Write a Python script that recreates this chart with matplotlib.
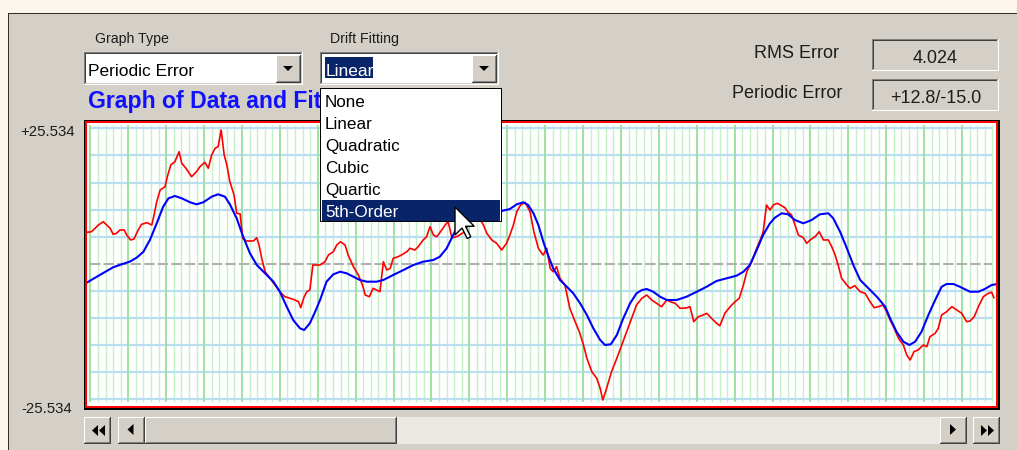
import matplotlib
matplotlib.use('Agg')
import numpy as np
import matplotlib.pyplot as plt
from matplotlib.patches import Rectangle, Polygon

W, H = 1017, 450

# measured periodic error (x = sample index, y = error)
data_x = [-0.8, 0.3, 1.2, 2.1, 3.4, 4.3, 5.2, 6.0, 6.9, 7.8, 8.9, 9.6, 10.6, 11.5, 12.6, 13.5, 14.9, 16.2, 16.8, 17.5,
          18.4, 19.7, 20.3, 21.2, 22.3, 23.4, 24.1, 25.2, 26.7, 28.0, 28.9, 30.2, 31.1, 32.0, 32.9, 33.7, 34.5, 35.3, 36.0, 36.8,
          37.9, 38.6, 39.5, 40.2, 41.2, 43.0, 43.9, 44.5, 45.2, 46.1, 47.4, 48.7, 50.0, 51.3, 52.7, 54.0, 54.9, 55.5, 56.4, 57.1,
          57.9, 58.7, 60.6, 61.9, 62.8, 64.1, 65.0, 66.0, 67.2, 68.0, 69.4, 70.7, 71.8, 72.5, 73.6, 74.6, 75.5, 76.4, 77.3, 78.2,
          79.1, 79.9, 81.2, 82.1, 83.5, 84.3, 85.6, 86.5, 87.8, 88.7, 89.6, 90.5, 91.4, 92.7, 93.6, 94.4, 95.4, 97.0, 98.6, 100.2,
          101.7, 103.7, 104.6, 105.9, 107.2, 108.5, 109.8, 110.7, 111.6, 112.5, 113.5, 114.7, 116.0, 117.0, 118.2, 119.1, 119.5, 120.4, 121.3, 122.1,
          123.0, 123.9, 125.2, 126.5, 127.9, 129.0, 130.1, 131.0, 132.3, 133.6, 134.5, 135.2, 136.2, 137.5, 138.9, 140.2, 141.5, 142.8, 144.1, 145.5,
          146.8, 148.1, 149.4, 150.7, 152.1, 153.2, 154.3, 155.6, 157.2, 158.2, 159.2, 160.4, 161.7, 162.6, 163.9, 165.2, 166.1, 167.4, 168.8, 170.1,
          171.2, 172.3, 173.2, 174.5, 175.8, 176.9, 177.5, 178.4, 179.3, 180.2, 181.2, 182.4, 183.3, 184.1, 185.0, 185.9, 186.8, 188.1, 189.0, 189.9,
          191.2, 192.3, 193.4, 194.7, 195.6, 196.5, 197.3, 198.2, 199.6, 200.4, 201.7, 203.1, 204.4, 205.7, 206.8, 207.9, 209.1, 210.1, 211.0, 212.1,
          213.2, 214.5, 215.4, 216.3, 217.3, 218.4, 219.8, 220.7, 221.5, 222.9, 223.7, 224.6, 225.9, 227.3, 228.6, 229.9, 231.2, 232.1, 233.2, 234.3,
          235.6, 236.9, 237.8, 238.4]
data_y = [5.94, 6.05, 6.69, 7.31, 7.93, 7.31, 6.69, 5.56, 5.75, 6.37, 6.37, 5.43, 4.49, 4.67, 6.37, 7.44, 7.75, 7.31, 9.20, 11.70,
          13.91, 14.53, 16.41, 18.62, 19.24, 21.13, 18.94, 18.00, 16.41, 17.36, 18.30, 19.13, 18.00, 20.50, 21.77, 22.07, 25.21, 20.50, 18.62, 15.47,
          12.97, 9.52, 9.38, 4.81, 4.30, 4.30, 4.92, 3.54, 1.04, -1.49, -2.73, -4.00, -5.26, -6.20, -6.50, -6.82, -7.14, -8.27, -6.20, -5.26,
          -4.94, -0.23, -0.23, 0.40, 1.66, 2.28, 3.54, 4.16, 3.54, 1.66, -0.55, -2.11, -4.00, -5.88, -6.20, -4.62, -4.94, -5.26, 0.40, -1.17,
          -0.85, 1.04, 1.34, 1.66, 2.28, 2.92, 2.60, 3.22, 4.49, 5.11, 6.99, 5.43, 5.11, 6.37, 7.31, 7.93, 4.86, 5.24, 5.99, 7.88,
          9.76, 7.31, 5.75, 4.49, 3.86, 2.60, 3.86, 5.43, 7.31, 9.82, 11.08, 11.59, 9.82, 6.05, 2.92, 1.98, 1.66, 2.92, -0.85, -1.49,
          -0.55, -2.73, -4.00, -8.39, -10.91, -12.80, -15.30, -17.81, -20.33, -21.58, -23.46, -25.67, -23.46, -20.33, -17.81, -15.30, -12.80, -10.27, -7.76, -6.50,
          -5.88, -6.82, -7.44, -8.08, -6.82, -7.20, -7.44, -8.39, -8.33, -8.08, -10.91, -9.97, -9.65, -9.33, -10.27, -11.21, -11.67, -9.33, -8.08, -7.14,
          -6.50, -4.00, -1.49, 0.40, 2.92, 4.81, 5.99, 11.08, 10.14, 11.08, 11.40, 10.95, 10.52, 9.71, 9.20, 7.31, 5.43, 4.92, 3.86, 4.49,
          5.11, 6.05, 4.49, 4.49, 3.22, 1.66, -0.23, -2.73, -4.00, -4.62, -4.13, -5.26, -5.56, -7.14, -8.27, -8.08, -7.76, -9.03, -10.59, -12.16,
          -14.04, -15.30, -17.19, -18.13, -16.56, -16.24, -15.30, -15.62, -13.74, -13.10, -12.16, -9.65, -9.03, -8.08, -8.71, -9.33, -10.91, -10.78, -9.97, -8.08,
          -6.20, -5.56, -5.37, -6.39]

# fitted curve
fit_x = [-0.8, 1.7, 4.3, 6.0, 8.7, 10.4, 12.2, 14.0, 15.7, 17.5, 19.2, 20.6, 22.3, 24.1, 26.3, 28.0, 29.8, 32.0, 33.7, 35.5,
         36.8, 38.6, 40.3, 42.1, 43.9, 46.1, 48.3, 50.0, 51.8, 53.5, 55.3, 56.4, 57.9, 59.3, 60.6, 62.3, 64.1, 65.9, 67.6, 69.4,
         71.1, 72.9, 75.5, 77.3, 79.9, 82.6, 85.2, 87.8, 90.5, 92.2, 94.0, 95.3, 96.6, 98.4, 101.5, 105.4, 108.5, 110.7, 112.5, 114.2,
         115.5, 116.9, 118.2, 119.5, 120.4, 122.1, 123.9, 125.7, 127.4, 129.2, 131.0, 132.7, 134.5, 135.8, 137.3, 138.9, 140.6, 142.4, 144.1, 145.5,
         146.8, 148.5, 150.3, 152.1, 154.7, 157.3, 160.0, 162.6, 165.2, 167.9, 170.5, 172.3, 174.0, 175.8, 177.5, 179.3, 180.6, 182.4, 184.1, 185.9,
         188.1, 190.3, 192.5, 194.7, 196.0, 197.8, 199.6, 201.3, 203.1, 205.3, 207.5, 209.7, 211.0, 212.7, 214.5, 216.1, 217.6, 219.3, 221.1, 222.9,
         224.6, 225.9, 227.7, 229.4, 232.1, 234.3, 236.0, 237.8, 238.9]
fit_y = [-3.49, -2.43, -1.36, -0.66, 0.02, 0.40, 1.15, 2.28, 4.49, 7.63, 10.76, 12.34, 12.78, 12.34, 11.59, 11.21, 11.59, 12.65, 13.10, 12.65,
         11.21, 8.57, 5.11, 1.98, -0.23, -1.79, -3.37, -5.26, -8.08, -10.59, -12.16, -12.48, -11.21, -9.03, -6.82, -3.37, -1.98, -1.49, -1.79, -2.43,
         -3.05, -3.37, -3.37, -3.05, -2.11, -1.17, -0.23, 0.40, 0.72, 1.34, 2.92, 4.81, 6.69, 7.93, 9.01, 9.57, 9.95, 10.33, 11.21, 11.59,
         11.08, 9.52, 7.31, 4.16, 2.28, -0.85, -3.05, -4.32, -5.56, -7.44, -9.65, -12.16, -14.36, -15.30, -15.17, -13.42, -10.27, -7.44, -5.56, -4.94,
         -4.75, -5.26, -6.20, -6.82, -6.82, -6.20, -5.26, -4.32, -3.24, -2.73, -2.24, -1.49, -0.23, 2.60, 5.43, 7.63, 8.69, 9.52, 9.33, 8.25,
         7.63, 8.25, 9.33, 9.52, 8.57, 6.05, 2.92, -0.23, -3.05, -4.62, -6.20, -8.08, -10.27, -12.80, -14.68, -15.30, -14.68, -12.80, -9.65, -6.82,
         -4.32, -3.81, -3.81, -4.32, -5.26, -5.26, -4.75, -4.00, -3.86]

y_limit = 25.534
y_tick_labels = ['+25.534', '-25.534']
graph_type = 'Periodic Error'
drift_options = ['None', 'Linear', 'Quadratic', 'Cubic', 'Quartic', '5th-Order']
drift_selected = 'Linear'
drift_hover = '5th-Order'
rms_error = '4.024'
periodic_error = '+12.8/-15.0'

FACE = '#d4d0c8'
NAVY = '#0a246a'
TXT = '#1c1c1c'

plt.rcParams['font.family'] = ['Liberation Sans', 'DejaVu Sans']

fig = plt.figure(figsize=(W / 100, H / 100), dpi=100)
fig.patch.set_facecolor('#fdf6ec')


def px_axes(z):
    a = fig.add_axes([0, 0, 1, 1], zorder=z)
    a.set_xlim(0, W)
    a.set_ylim(H, 0)
    a.axis('off')
    return a


def rect(a, x, y, w, h, fc, **kw):
    a.add_patch(Rectangle((x, y), w, h, facecolor=fc, edgecolor='none', lw=0, **kw))


def sunken(a, x0, y0, x1, y1, fill):
    rect(a, x0, y0, x1 - x0, y1 - y0, '#ffffff')
    rect(a, x0, y0, x1 - x0 - 1, y1 - y0 - 1, '#808080')
    rect(a, x0 + 1, y0 + 1, x1 - x0 - 2, y1 - y0 - 2, FACE)
    rect(a, x0 + 1, y0 + 1, x1 - x0 - 3, y1 - y0 - 3, '#404040')
    rect(a, x0 + 2, y0 + 2, x1 - x0 - 4, y1 - y0 - 4, fill)


def raised(a, x0, y0, x1, y1):
    rect(a, x0, y0, x1 - x0, y1 - y0, '#404040')
    rect(a, x0, y0, x1 - x0 - 1, y1 - y0 - 1, '#ffffff')
    rect(a, x0 + 1, y0 + 1, x1 - x0 - 2, y1 - y0 - 2, '#808080')
    rect(a, x0 + 1, y0 + 1, x1 - x0 - 3, y1 - y0 - 3, FACE)


def tri(a, cx, cy, w, h, d):
    if d == 'down':
        pts = [(cx - w / 2, cy - h / 2), (cx + w / 2, cy - h / 2), (cx, cy + h / 2)]
    elif d == 'left':
        pts = [(cx + w / 2, cy - h / 2), (cx + w / 2, cy + h / 2), (cx - w / 2, cy)]
    else:
        pts = [(cx - w / 2, cy - h / 2), (cx - w / 2, cy + h / 2), (cx + w / 2, cy)]
    a.add_patch(Polygon(pts, closed=True, facecolor='black', edgecolor='none'))


bg = px_axes(0)
fg = px_axes(3)

# dialog panel
rect(bg, 8, 13, W - 8, H - 13, '#303030')
rect(bg, 9, 14, W - 9, H - 14, FACE)

# combo boxes
bg.text(95, 43, 'Graph Type', fontsize=10.2, color=TXT)
bg.text(330, 43, 'Drift Fitting', fontsize=10.2, color=TXT)
sunken(bg, 84, 52, 303, 85, 'white')
raised(bg, 276, 55, 301, 83)
tri(bg, 288, 68.5, 10, 5, 'down')
bg.text(88, 76, graph_type, fontsize=12.5, color='black')
sunken(bg, 320, 52, 499, 85, 'white')
raised(bg, 472, 55, 497, 83)
tri(bg, 484, 68.5, 10, 5, 'down')
rect(bg, 325, 57, 48, 21, NAVY)
bg.text(326, 76, drift_selected, fontsize=12.5, color='white')

bg.text(88, 108, 'Graph of Data and Fit', fontsize=16.6, fontweight='bold', color='#1010ff')

# result boxes
bg.text(839, 57.5, 'RMS Error', fontsize=13, color=TXT, ha='right')
bg.text(842, 97.5, 'Periodic Error', fontsize=13, color=TXT, ha='right')
sunken(bg, 872, 39, 999, 71, FACE)
sunken(bg, 872, 79, 999, 111, FACE)
bg.text(935, 63, rms_error, fontsize=13, color=TXT, ha='center')
bg.text(936, 103, periodic_error, fontsize=13, color=TXT, ha='center')

# axis labels
bg.text(75, 136.5, y_tick_labels[0], fontsize=10.8, color=TXT, ha='right')
bg.text(72, 413, y_tick_labels[1], fontsize=10.8, color=TXT, ha='right')

# plot frame
rect(bg, 84, 120, 916, 290, 'black')
rect(bg, 85, 121, 913, 287, '#ff0000')

# scroll bar
rect(bg, 145, 417, 795, 27, '#ebe9e4', hatch='....')
raised(bg, 84, 417, 111, 444)
tri(bg, 95, 430.5, 6, 11, 'left')
tri(bg, 102, 430.5, 6, 11, 'left')
raised(bg, 118, 417, 145, 444)
tri(bg, 130.5, 429.5, 6, 11, 'left')
raised(bg, 145, 417, 397, 444)
raised(bg, 940, 417, 967, 444)
tri(bg, 953, 429.5, 6, 11, 'right')
raised(bg, 973, 417, 1000, 444)
tri(bg, 984, 430.5, 6, 11, 'right')
tri(bg, 991, 430.5, 6, 11, 'right')

# chart
L, R, T, B = 87.2, 996.0, 123.0, 406.0
X0, XS = 90.4, 3.79          # pixel of sample 0, pixels per sample
Y0, YS = 263.8, 27.1         # pixel of zero, pixels per grid step
step = y_limit / 5
ax = fig.add_axes([L / W, 1 - B / H, (R - L) / W, (B - T) / H], zorder=2)
ax.set_facecolor('white')
ax.set_xlim((L - X0) / XS, (R - X0) / XS)
ax.set_ylim(-(B - Y0) / YS * step, (Y0 - T) / YS * step)
for s in ax.spines.values():
    s.set_visible(False)
ax.set_xticks([])
ax.set_yticks([])

minor = [v for v in np.arange(0, 239, 2) if v % 10]
major = np.arange(0, 231, 10)
ax.vlines(minor, -26.1, 26.1, color='#c6f0c6', lw=1.0, zorder=1)
levels = [k * step for k in range(-5, 6) if k != 0]
ax.hlines(levels, 0, 238, color='#b9def0', lw=1.6, zorder=2)
ax.vlines(major, -26.1, 26.1, color='#9ee29e', lw=1.4, zorder=3)
ax.hlines([0], 0, 238, color='#b0b0b0', lw=1.5, linestyles=(0, (5, 1.5)), zorder=3)

ax.plot(data_x, data_y, color='#ff0000', lw=1.2, zorder=4)
ax.plot(fit_x, fit_y, color='#0000ff', lw=1.5, zorder=5)

# open drop-down list
rect(fg, 320, 88, 182, 134, 'black')
rect(fg, 321, 89, 180, 132, 'white')
rect(fg, 322, 200, 178, 21, NAVY)
for i, opt in enumerate(drift_options):
    c = 'white' if opt == drift_hover else 'black'
    fg.text(325, 106.7 + 22 * i, opt, fontsize=12.3, color=c)

# mouse pointer
tip = np.array([455, 207])
arrow = np.array([(0, 0), (0, 16), (4, 12), (7, 18), (9, 17), (6, 11), (11, 11)]) * 1.75 + tip
fg.add_patch(Polygon(arrow, closed=True, facecolor='white', edgecolor='black', lw=1.0, joinstyle='miter'))

fig.savefig('out.png', dpi=100, facecolor=fig.get_facecolor())
